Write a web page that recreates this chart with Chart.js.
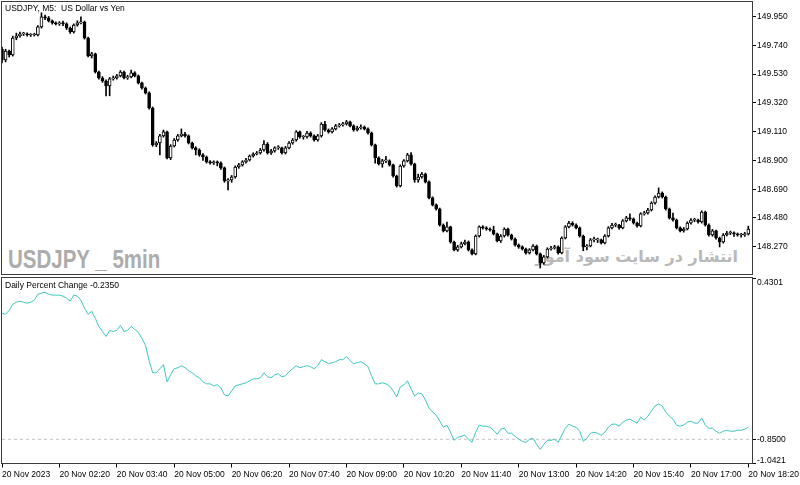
<!DOCTYPE html>
<html>
<head>
<meta charset="utf-8">
<script src="https://cdn.jsdelivr.net/npm/chart.js"></script>
<style>
body { margin: 0; background: #fff; }
#wrap { position: relative; width: 800px; height: 485px; overflow: hidden; font-family: "Liberation Sans", Arial, sans-serif; }
canvas { position: absolute; left: 0; }
#c1 { top: 0; }
#c2 { top: 265px; }
.txt { position: absolute; white-space: pre; color: #000; font-size: 8.5px; line-height: 10px; }
#wm1 { position: absolute; left: 8px; top: 247px; font: bold 25px/25px "Liberation Sans", Arial, sans-serif; color: #acacac; transform: scaleX(0.82); transform-origin: left top; white-space: pre; }
#wm2 { position: absolute; right: 62px; top: 247px; font: bold 16px/20px "DejaVu Sans", sans-serif; color: #b8b8b8; direction: rtl; white-space: pre; }
</style>
</head>
<body>
<div id="wrap">
  <div id="wm1">USDJPY _ 5min</div>
  <div id="wm2">انتشار در سایت سود آموز</div>
  <canvas id="c1" width="800" height="276"></canvas>
  <canvas id="c2" width="800" height="220"></canvas>
  <div class="txt" style="left:5px; top:3px;">USDJPY, M5:  US Dollar vs Yen</div>
  <div class="txt" style="left:5px; top:280px;">Daily Percent Change -0.2350</div>
</div>
<script>
// 5 minute bars, 20 Nov 01:00 .. 18:20
var opens = [
  149.714, 149.634, 149.699, 149.670, 149.794, 149.809, 149.824, 149.824, 149.816, 149.816,
  149.816, 149.875, 149.948, 149.940, 149.919, 149.904, 149.897, 149.904, 149.897, 149.867,
  149.838, 149.889, 149.904, 149.911, 149.794, 149.663, 149.678, 149.546, 149.502, 149.480,
  149.444, 149.495, 149.502, 149.517, 149.546, 149.502, 149.510, 149.539, 149.517, 149.466,
  149.429, 149.393, 149.283, 149.013, 149.027, 149.079, 149.108, 148.918, 149.005, 149.049,
  149.079, 149.093, 149.079, 149.027, 148.991, 148.976, 148.940, 148.925, 148.889, 148.881,
  148.889, 148.881, 148.845, 148.750, 148.757, 148.779, 148.852, 148.867, 148.889, 148.903,
  148.932, 148.947, 148.954, 148.976, 149.020, 148.954, 148.969, 148.991, 148.991, 148.954,
  148.991, 149.027, 149.049, 149.108, 149.071, 149.071, 149.100, 149.079, 149.049, 149.079,
  149.166, 149.122, 149.108, 149.130, 149.152, 149.159, 149.166, 149.181, 149.152, 149.122,
  149.137, 149.144, 149.130, 149.100, 149.013, 148.918, 148.874, 148.896, 148.896, 148.867,
  148.786, 148.713, 148.859, 148.896, 148.940, 148.874, 148.757, 148.779, 148.801, 148.743,
  148.626, 148.575, 148.545, 148.428, 148.385, 148.414, 148.304, 148.246, 148.268, 148.290,
  148.304, 148.246, 148.217, 148.348, 148.414, 148.407, 148.399, 148.392, 148.363, 148.312,
  148.348, 148.399, 148.355, 148.326, 148.282, 148.268, 148.253, 148.224, 148.246, 148.275,
  148.217, 148.151, 148.195, 148.253, 148.260, 148.268, 148.224, 148.333, 148.414, 148.443,
  148.428, 148.407, 148.348, 148.268, 148.275, 148.319, 148.319, 148.319, 148.297, 148.348,
  148.407, 148.428, 148.428, 148.407, 148.458, 148.480, 148.472, 148.443, 148.421, 148.509,
  148.516, 148.538, 148.589, 148.633, 148.662, 148.633, 148.545, 148.480, 148.465, 148.407,
  148.385, 148.399, 148.443, 148.465, 148.465, 148.450, 148.523, 148.428, 148.355, 148.385,
  148.333, 148.304, 148.355, 148.370, 148.370, 148.363, 148.355, 148.355, 148.363
];
var highs = [
  149.728, 149.712, 149.706, 149.808, 149.830, 149.838, 149.836, 149.831, 149.826, 149.829,
  149.884, 149.978, 149.962, 149.951, 149.926, 149.912, 149.914, 149.918, 149.905, 149.875,
  149.897, 149.920, 149.949, 149.918, 149.800, 149.690, 149.684, 149.552, 149.512, 149.488,
  149.506, 149.516, 149.528, 149.556, 149.553, 149.522, 149.560, 149.548, 149.524, 149.473,
  149.436, 149.400, 149.290, 149.038, 149.090, 149.122, 149.115, 149.015, 149.060, 149.090,
  149.130, 149.105, 149.086, 149.034, 149.000, 148.985, 148.950, 148.932, 148.898, 148.897,
  148.896, 148.890, 148.852, 148.768, 148.790, 148.860, 148.878, 148.898, 148.915, 148.940,
  148.956, 148.965, 148.988, 149.045, 149.030, 148.980, 149.000, 149.008, 148.998, 149.002,
  149.037, 149.060, 149.118, 149.115, 149.082, 149.112, 149.109, 149.086, 149.090, 149.176,
  149.185, 149.130, 149.140, 149.163, 149.170, 149.178, 149.192, 149.188, 149.160, 149.150,
  149.160, 149.152, 149.138, 149.108, 149.020, 148.926, 148.908, 148.930, 148.904, 148.874,
  148.792, 148.868, 148.906, 148.952, 148.958, 148.880, 148.800, 148.812, 148.808, 148.750,
  148.634, 148.583, 148.552, 148.436, 148.450, 148.420, 148.310, 148.280, 148.304, 148.318,
  148.312, 148.254, 148.356, 148.422, 148.424, 148.416, 148.408, 148.420, 148.370, 148.358,
  148.408, 148.406, 148.362, 148.334, 148.290, 148.276, 148.260, 148.256, 148.286, 148.282,
  148.224, 148.206, 148.262, 148.272, 148.280, 148.276, 148.342, 148.424, 148.455, 148.452,
  148.436, 148.414, 148.355, 148.286, 148.330, 148.340, 148.332, 148.326, 148.358, 148.416,
  148.440, 148.442, 148.434, 148.468, 148.492, 148.510, 148.480, 148.450, 148.518, 148.528,
  148.550, 148.598, 148.642, 148.699, 148.670, 148.640, 148.552, 148.515, 148.472, 148.414,
  148.410, 148.452, 148.476, 148.478, 148.472, 148.532, 148.530, 148.436, 148.396, 148.392,
  148.340, 148.366, 148.382, 148.384, 148.378, 148.370, 148.368, 148.374, 148.420
];
var lows = [
  149.612, 149.620, 149.655, 149.662, 149.781, 149.800, 149.812, 149.808, 149.805, 149.808,
  149.810, 149.866, 149.928, 149.911, 149.895, 149.889, 149.886, 149.885, 149.856, 149.828,
  149.830, 149.880, 149.896, 149.786, 149.655, 149.648, 149.538, 149.494, 149.470, 149.371,
  149.372, 149.486, 149.494, 149.510, 149.495, 149.492, 149.503, 149.510, 149.458, 149.420,
  149.385, 149.275, 149.003, 149.000, 148.940, 149.070, 148.910, 148.905, 148.998, 149.040,
  149.072, 149.070, 149.020, 148.983, 148.940, 148.930, 148.900, 148.880, 148.872, 148.870,
  148.860, 148.835, 148.740, 148.684, 148.740, 148.770, 148.842, 148.858, 148.880, 148.896,
  148.924, 148.940, 148.946, 148.968, 148.946, 148.944, 148.960, 148.980, 148.945, 148.947,
  148.984, 149.018, 149.040, 149.062, 149.055, 149.063, 149.070, 149.040, 149.040, 149.070,
  149.114, 149.099, 149.100, 149.122, 149.143, 149.150, 149.158, 149.144, 149.113, 149.115,
  149.128, 149.122, 149.092, 149.005, 148.880, 148.866, 148.850, 148.884, 148.858, 148.778,
  148.705, 148.706, 148.850, 148.888, 148.866, 148.740, 148.740, 148.770, 148.735, 148.618,
  148.567, 148.537, 148.420, 148.377, 148.377, 148.296, 148.238, 148.236, 148.260, 148.282,
  148.238, 148.209, 148.210, 148.340, 148.398, 148.390, 148.384, 148.355, 148.304, 148.300,
  148.340, 148.347, 148.318, 148.274, 148.258, 148.245, 148.216, 148.216, 148.238, 148.209,
  148.114, 148.140, 148.188, 148.244, 148.252, 148.216, 148.217, 148.326, 148.406, 148.420,
  148.399, 148.340, 148.240, 148.246, 148.268, 148.305, 148.300, 148.289, 148.290, 148.340,
  148.400, 148.416, 148.398, 148.400, 148.450, 148.462, 148.435, 148.412, 148.414, 148.500,
  148.508, 148.530, 148.580, 148.625, 148.625, 148.537, 148.472, 148.457, 148.399, 148.377,
  148.376, 148.392, 148.435, 148.452, 148.442, 148.442, 148.420, 148.347, 148.346, 148.325,
  148.268, 148.296, 148.348, 148.358, 148.344, 148.346, 148.340, 148.345, 148.355
];
var closes = [
  149.634, 149.699, 149.670, 149.794, 149.809, 149.824, 149.824, 149.816, 149.816, 149.816,
  149.875, 149.948, 149.940, 149.919, 149.904, 149.897, 149.904, 149.897, 149.867, 149.838,
  149.889, 149.904, 149.911, 149.794, 149.663, 149.678, 149.546, 149.502, 149.480, 149.444,
  149.495, 149.502, 149.517, 149.546, 149.502, 149.510, 149.539, 149.517, 149.466, 149.429,
  149.393, 149.283, 149.013, 149.027, 149.079, 149.108, 148.918, 149.005, 149.049, 149.079,
  149.093, 149.079, 149.027, 148.991, 148.976, 148.940, 148.925, 148.889, 148.881, 148.889,
  148.881, 148.845, 148.750, 148.757, 148.779, 148.852, 148.867, 148.889, 148.903, 148.932,
  148.947, 148.954, 148.976, 149.020, 148.954, 148.969, 148.991, 148.991, 148.954, 148.991,
  149.027, 149.049, 149.108, 149.071, 149.071, 149.100, 149.079, 149.049, 149.079, 149.166,
  149.122, 149.108, 149.130, 149.152, 149.159, 149.166, 149.181, 149.152, 149.122, 149.137,
  149.144, 149.130, 149.100, 149.013, 148.918, 148.874, 148.896, 148.896, 148.867, 148.786,
  148.713, 148.859, 148.896, 148.940, 148.874, 148.757, 148.779, 148.801, 148.743, 148.626,
  148.575, 148.545, 148.428, 148.385, 148.414, 148.304, 148.246, 148.268, 148.290, 148.304,
  148.246, 148.217, 148.348, 148.414, 148.407, 148.399, 148.392, 148.363, 148.312, 148.348,
  148.399, 148.355, 148.326, 148.282, 148.268, 148.253, 148.224, 148.246, 148.275, 148.217,
  148.151, 148.195, 148.253, 148.260, 148.268, 148.224, 148.333, 148.414, 148.443, 148.428,
  148.407, 148.348, 148.268, 148.275, 148.319, 148.319, 148.319, 148.297, 148.348, 148.407,
  148.428, 148.428, 148.407, 148.458, 148.480, 148.472, 148.443, 148.421, 148.509, 148.516,
  148.538, 148.589, 148.633, 148.662, 148.633, 148.545, 148.480, 148.465, 148.407, 148.385,
  148.399, 148.443, 148.465, 148.465, 148.450, 148.523, 148.428, 148.355, 148.385, 148.333,
  148.304, 148.355, 148.370, 148.370, 148.363, 148.355, 148.355, 148.363, 148.399
];
// Daily Percent Change indicator, one value per bar
var pctChange = [
  0.150, 0.142, 0.174, 0.222, 0.238, 0.246, 0.238, 0.230, 0.238, 0.254,
  0.302, 0.310, 0.318, 0.302, 0.294, 0.294, 0.294, 0.286, 0.270, 0.246,
  0.294, 0.286, 0.254, 0.190, 0.142, 0.166, 0.110, 0.046, 0.006, -0.034,
  0.014, 0.006, 0.014, 0.054, 0.006, 0.014, 0.046, 0.022, -0.002, -0.050,
  -0.106, -0.226, -0.322, -0.322, -0.290, -0.258, -0.394, -0.338, -0.290, -0.282,
  -0.266, -0.282, -0.306, -0.322, -0.346, -0.362, -0.394, -0.410, -0.410, -0.426,
  -0.418, -0.442, -0.498, -0.506, -0.466, -0.426, -0.418, -0.410, -0.402, -0.386,
  -0.370, -0.370, -0.362, -0.322, -0.354, -0.362, -0.338, -0.330, -0.354, -0.346,
  -0.314, -0.290, -0.266, -0.282, -0.274, -0.266, -0.274, -0.290, -0.266, -0.218,
  -0.234, -0.250, -0.242, -0.234, -0.218, -0.218, -0.194, -0.226, -0.250, -0.242,
  -0.234, -0.250, -0.274, -0.346, -0.410, -0.410, -0.402, -0.410, -0.426, -0.466,
  -0.514, -0.434, -0.418, -0.386, -0.450, -0.506, -0.482, -0.490, -0.538, -0.602,
  -0.634, -0.658, -0.706, -0.754, -0.738, -0.794, -0.858, -0.834, -0.826, -0.818,
  -0.850, -0.874, -0.794, -0.738, -0.746, -0.746, -0.754, -0.778, -0.810, -0.770,
  -0.762, -0.802, -0.802, -0.826, -0.850, -0.866, -0.874, -0.850, -0.842, -0.890,
  -0.930, -0.890, -0.858, -0.858, -0.850, -0.874, -0.818, -0.762, -0.730, -0.746,
  -0.754, -0.786, -0.866, -0.842, -0.802, -0.794, -0.802, -0.818, -0.794, -0.754,
  -0.730, -0.730, -0.746, -0.714, -0.698, -0.690, -0.706, -0.722, -0.674, -0.698,
  -0.666, -0.626, -0.586, -0.570, -0.586, -0.634, -0.666, -0.690, -0.738, -0.746,
  -0.738, -0.714, -0.706, -0.722, -0.722, -0.682, -0.738, -0.762, -0.762, -0.786,
  -0.802, -0.786, -0.778, -0.786, -0.786, -0.778, -0.778, -0.770, -0.754
];
var priceTicks = [148.270, 148.480, 148.690, 148.900, 149.110, 149.320, 149.530, 149.740, 149.950];
var pctTicks = [0.4301, -0.8500, -1.0421];
var levelValue = -0.85;
var timeLabels = ['20 Nov 2023', '20 Nov 02:20', '20 Nov 03:40', '20 Nov 05:00', '20 Nov 06:20',
  '20 Nov 07:40', '20 Nov 09:00', '20 Nov 10:20', '20 Nov 11:40', '20 Nov 13:00',
  '20 Nov 14:20', '20 Nov 15:40', '20 Nov 17:00', '20 Nov 18:20'];
var labelEvery = 16;   // one time label every 16 bars
var xMax = 209.3;

var fontFam = '"Liberation Sans", Arial, sans-serif';

// thin frame round each pane
var frame = {
  id: 'frame',
  afterDraw: function (chart) {
    var a = chart.chartArea, ctx = chart.ctx;
    ctx.save();
    ctx.strokeStyle = '#3c3c3c';
    ctx.lineWidth = 1;
    ctx.strokeRect(Math.round(a.left) - 0.5, Math.round(a.top) - 0.5,
      Math.round(a.right - a.left), Math.round(a.bottom - a.top));
    ctx.restore();
  }
};

function noPad(s) { s.paddingLeft = 0; s.paddingRight = 0; s.paddingTop = 0; s.paddingBottom = 0; }

var bodies = closes.map(function (c, i) { return {x: i, y: [opens[i], c]}; });
var wicks = lows.map(function (l, i) { return {x: i, y: [l, highs[i]]}; });

new Chart(document.getElementById('c1'), {
  type: 'bar',
  data: {
    datasets: [{
      data: bodies,
      backgroundColor: function (ctx) { var i = ctx.dataIndex; return closes[i] >= opens[i] ? '#fff' : '#000'; },
      borderColor: '#000',
      borderWidth: 1,
      borderSkipped: false,
      barThickness: 3,
      minBarLength: 1,
      grouped: false,
      order: 0
    }, {
      data: wicks,
      backgroundColor: '#000',
      barThickness: 1,
      grouped: false,
      order: 1
    }]
  },
  options: {
    responsive: false,
    animation: false,
    events: [],
    layout: {padding: {left: 2, top: 2, right: 0, bottom: 1}},
    plugins: {legend: {display: false}, tooltip: {enabled: false}},
    scales: {
      x: {type: 'linear', min: 0, max: xMax, offset: false, display: false, grid: {offset: false}},
      y: {
        position: 'right', min: 148.063, max: 150.057,
        afterBuildTicks: function (s) { s.ticks = priceTicks.map(function (v) { return {value: v}; }); },
        afterFit: function (s) { s.width = 47; noPad(s); },
        grid: {drawOnChartArea: false, tickLength: 3, color: '#000'},
        border: {display: false},
        ticks: {font: {family: fontFam, size: 8.5}, color: '#000', padding: 1,
          callback: function (v) { return v.toFixed(3); }}
      }
    }
  },
  plugins: [frame]
});

new Chart(document.getElementById('c2'), {
  type: 'line',
  data: {
    datasets: [{
      data: pctChange.map(function (v, i) { return {x: i, y: v}; }),
      borderColor: '#3fc7bf',
      borderWidth: 1,
      pointRadius: 0,
      tension: 0
    }, {
      data: [{x: 0, y: levelValue}, {x: xMax, y: levelValue}],
      borderColor: '#c4c4c4',
      borderWidth: 1,
      borderDash: [3, 3],
      pointRadius: 0
    }]
  },
  options: {
    responsive: false,
    animation: false,
    events: [],
    layout: {padding: {left: 2, top: 13, right: 0, bottom: 0}},
    plugins: {legend: {display: false}, tooltip: {enabled: false}},
    scales: {
      x: {
        type: 'linear', min: 0, max: xMax, offset: false,
        afterBuildTicks: function (s) { s.ticks = timeLabels.map(function (t, k) { return {value: k * labelEvery}; }); },
        afterFit: function (s) { s.height = 21.5; noPad(s); },
        grid: {drawOnChartArea: false, tickLength: 4, color: '#000', offset: false},
        border: {display: false},
        ticks: {font: {family: fontFam, size: 8.5}, color: '#000', padding: 2, align: 'start',
          maxRotation: 0, autoSkip: false,
          callback: function (v, idx) { return timeLabels[idx]; }}
      },
      y: {
        position: 'right', min: -1.0421, max: 0.4301,
        afterBuildTicks: function (s) { s.ticks = pctTicks.map(function (v) { return {value: v}; }); },
        afterFit: function (s) { s.width = 47; noPad(s); },
        grid: {drawOnChartArea: false, tickLength: 3, color: '#000'},
        border: {display: false},
        ticks: {
          color: '#000', padding: 1,
          font: function (c) {
            var lh = c.index === 0 ? '10px' : (c.index === pctTicks.length - 1 ? '6px' : 1.2);
            return {family: fontFam, size: 8.5, lineHeight: lh};
          },
          // keep the edge labels inside the pane like the terminal does
          callback: function (v, idx) {
            var s = v.toFixed(4);
            if (idx === 0) return ['', s];
            if (idx === pctTicks.length - 1) return [s, ''];
            return s;
          }
        }
      }
    }
  },
  plugins: [frame]
});
</script>
</body>
</html>
